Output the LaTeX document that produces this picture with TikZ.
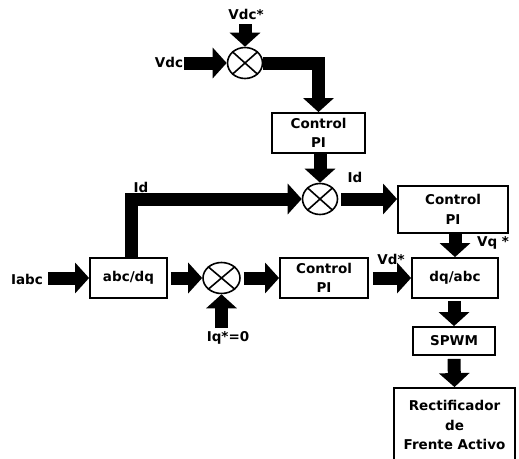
\documentclass[tikz,border=0pt]{standalone}
\usepackage{fontspec}
\setmainfont{DejaVu Sans}
\usetikzlibrary{arrows.meta,calc,shapes.geometric}
\begin{document}
\begin{tikzpicture}[x=1pt,y=-1pt,
  font=\fontsize{13.5}{19.5}\selectfont\bfseries,
  blk/.style={draw,line width=1.8pt,align=center,inner sep=0pt},
  sumc/.style={draw,ellipse,line width=1.6pt,minimum width=35pt,minimum height=31pt,inner sep=0pt},
  fat/.style={line width=13pt,-{Triangle[width=30pt,length=14pt]},line join=miter},
  lbl/.style={inner sep=0pt}]
\useasboundingbox (0,0) rectangle (519,458);
\clip (0,0) rectangle (519,458);
% blocks
\node[blk,minimum width=93pt,minimum height=40pt] (pi1) at (318.5,133) {Control\\PI};
\node[blk,minimum width=110pt,minimum height=47pt] (pi2) at (453,209.5) {Control\\PI};
\node[blk,minimum width=77pt,minimum height=40pt] (abc) at (128.5,278) {abc/dq};
\node[blk,minimum width=88pt,minimum height=40pt] (pi3) at (324,278) {Control\\PI};
\node[blk,minimum width=86pt,minimum height=40pt] (dq) at (455,278) {dq/abc};
\node[blk,minimum width=82pt,minimum height=28pt] (spwm) at (454,341) {SPWM};
\node[blk,minimum width=121pt,minimum height=74pt] (rect) at (454.5,425) {Rectificador\\de\\Frente Activo};
% summing junctions
\node[sumc] (c1) at (245,63) {};
\node[sumc] (c2) at (320,199) {};
\node[sumc,minimum width=37pt] (c3) at (221.5,278) {};
\foreach \c in {c1,c2,c3}{
  \draw[line width=1.6pt] (\c.north east) -- (\c.south west) (\c.north west) -- (\c.south east);
}
% labels
\node[lbl] (lvdcs) at (246,14) {Vdc*};
\node[lbl] (lvdc) at (169,62) {Vdc};
\node[lbl] (lid1) at (355,177) {Id};
\node[lbl] (lid2) at (141,187) {Id};
\node[lbl] (liabc) at (27,279) {Iabc};
\node[lbl] (liq) at (228,338) {Iq*=0};
\node[lbl] (lvd) at (391,259) {Vd*};
\node[lbl] (lvq) at (493,243) {Vq *};
% free ends
\coordinate (vdcsIn) at (245,24);
\coordinate (vdcIn) at (184,63);
\coordinate (iabcIn) at (48,278);
\coordinate (iqIn) at (221.5,328);
% connectors
\draw[fat] (vdcsIn) -- (c1.north);
\draw[fat] (vdcIn) -- (c1.west);
\draw[fat] (c1.east) -| (pi1.north);
\draw[fat] (pi1.south -| c2.north) -- (c2.north);
\draw[fat] ([xshift=2.5pt]abc.north) |- (c2.west);
\draw[fat,shorten <=3pt] (c2.east) -- (c2.east -| pi2.west);
\draw[fat] (pi2.south -| dq.north) -- (dq.north);
\draw[fat] (iabcIn) -- (abc.west);
\draw[fat,shorten <=3pt] (abc.east) -- (c3.west);
\draw[fat] (iqIn) -- (c3.south);
\draw[fat,shorten <=3pt] (c3.east) -- (pi3.west);
\draw[fat,shorten <=4pt] (pi3.east) -- (dq.west);
\draw[fat,shorten <=2pt] (dq.south -| spwm.north) -- (spwm.north);
\draw[fat,shorten <=3pt] (spwm.south) -- (rect.north);
\end{tikzpicture}
\end{document}
